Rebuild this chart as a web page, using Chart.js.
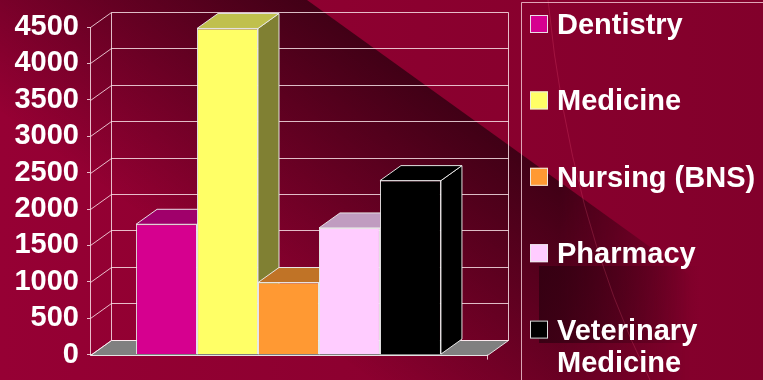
<!DOCTYPE html>
<html><head><meta charset="utf-8">
<script src="https://cdn.jsdelivr.net/npm/chart.js@4"></script>
<style>
html,body{margin:0;padding:0;background:#8f0030;overflow:hidden}
#wrap{position:relative;width:763px;height:380px}
canvas{display:block}
</style>
</head><body>
<div id="wrap"><canvas id="c" width="763" height="380"></canvas></div>
<script>
// ---- data ----
const categories = ['Dentistry', 'Medicine', 'Nursing (BNS)', 'Pharmacy', 'Veterinary Medicine'];
const values = [1790, 4480, 990, 1740, 2390];
const frontColors = ['#D6008F', '#FFFF66', '#FF9933', '#FFCCFF', '#000000'];
const topColors = ['#A0006B', '#C0C04D', '#C07326', '#C09CC0', '#000000'];
const sideColors = ['#6B0048', '#808033', '#804D1A', '#806680', '#000000'];
const yMin = 0, yMax = 4500, yStep = 500;

const FONT = "'Liberation Sans', Arial, sans-serif";
const DX = 21, DY = -15;
const EDGE = 'rgba(235,235,235,0.95)';
const GRID = 'rgba(255,235,240,0.8)';

function seg(ctx, x1, y1, x2, y2) {
  ctx.beginPath(); ctx.moveTo(x1, y1); ctx.lineTo(x2, y2); ctx.stroke();
}
function poly(ctx, pts, fill, stroke) {
  ctx.beginPath();
  pts.forEach((p, i) => i ? ctx.lineTo(p[0], p[1]) : ctx.moveTo(p[0], p[1]));
  ctx.closePath();
  ctx.fillStyle = fill; ctx.fill();
  ctx.strokeStyle = stroke; ctx.lineWidth = 1; ctx.stroke();
}

const background = {
  id: 'background',
  beforeDraw(chart) {
    const ctx = chart.ctx, W = chart.width, H = chart.height;
    ctx.save();
    const g = ctx.createLinearGradient(0, 0, W, 0);
    g.addColorStop(0, '#960034');
    g.addColorStop(1, '#82002b');
    ctx.fillStyle = g; ctx.fillRect(0, 0, W, H);
    // dark diagonal shape (offscreen to fade it to the right)
    const off = document.createElement('canvas'); off.width = W; off.height = H;
    const o = off.getContext('2d');
    const nx = -0.584, ny = 0.811;
    const dg = o.createLinearGradient(307, 0, 307 + nx * 270, ny * 270);
    dg.addColorStop(0, 'rgba(40,0,14,0.75)');
    dg.addColorStop(0.5, 'rgba(40,0,14,0.38)');
    dg.addColorStop(1, 'rgba(40,0,14,0)');
    o.beginPath(); o.moveTo(307, 0); o.lineTo(W, 0.72 * (W - 307)); o.lineTo(W, H); o.lineTo(0, H); o.lineTo(0, 0); o.closePath();
    o.fillStyle = dg; o.fill();
    o.globalCompositeOperation = 'destination-out';
    const fg = o.createLinearGradient(560, 0, 690, 0);
    fg.addColorStop(0, 'rgba(0,0,0,0)'); fg.addColorStop(1, 'rgba(0,0,0,1)');
    o.fillStyle = fg; o.fillRect(0, 0, W, H);
    ctx.drawImage(off, 0, 0);
    // dark rectangle in the legend panel
    const rg = ctx.createLinearGradient(539, 0, 700, 0);
    rg.addColorStop(0, 'rgba(40,0,14,0.7)'); rg.addColorStop(1, 'rgba(40,0,14,0)');
    ctx.fillStyle = rg; ctx.fillRect(539, 266, 161, 77);
    // faint arc
    ctx.strokeStyle = 'rgba(255,90,130,0.22)'; ctx.lineWidth = 1;
    ctx.beginPath(); ctx.moveTo(548, 0); ctx.quadraticCurveTo(570, 220, 650, 380); ctx.stroke();
    ctx.restore();
  }
};

const threeD = {
  id: 'threeD',
  beforeDatasetsDraw(chart) {
    const ctx = chart.ctx, a = chart.chartArea, y = chart.scales.y;
    ctx.save();
    ctx.lineWidth = 1;
    const L = Math.round(a.left) + 0.5, R = Math.round(a.right) + 0.5;
    const B = Math.round(a.bottom) + 0.5;
    // floor
    poly(ctx, [[L, B], [R, B], [R + DX, B + DY], [L + DX, B + DY]], '#808080', EDGE);
    // back wall grid + left wall diagonals
    ctx.strokeStyle = GRID;
    y.ticks.forEach(t => {
      const py = Math.round(y.getPixelForValue(t.value)) + 0.5;
      seg(ctx, L, py, L + DX, py + DY);
      seg(ctx, L + DX, py + DY, R + DX, py + DY);
    });
    const T = Math.round(y.getPixelForValue(yMax)) + 0.5;
    seg(ctx, L + DX, T + DY, L + DX, B + DY);
    seg(ctx, R + DX, T + DY, R + DX, B + DY);
    // bar sides and tops, left to right
    categories.forEach((c, i) => {
      const el = chart.getDatasetMeta(i).data[0];
      const l = el.x - el.width / 2, r = el.x + el.width / 2, tp = el.y, bs = el.base;
      poly(ctx, [[r, tp], [r + DX, tp + DY], [r + DX, bs + DY], [r, bs]], sideColors[i], EDGE);
      poly(ctx, [[l, tp], [r, tp], [r + DX, tp + DY], [l + DX, tp + DY]], topColors[i], EDGE);
    });
    ctx.restore();
  },
  afterDatasetsDraw(chart) {
    const ctx = chart.ctx, a = chart.chartArea;
    ctx.save(); ctx.strokeStyle = GRID; ctx.lineWidth = 1;
    seg(ctx, Math.round(a.right) + 0.5, a.bottom, Math.round(a.right) + 0.5, a.bottom + 5);
    ctx.restore();
  }
};

const legendPanel = {
  id: 'legendPanel',
  afterDraw(chart) {
    const ctx = chart.ctx;
    ctx.save();
    ctx.strokeStyle = 'rgba(255,220,230,0.75)'; ctx.lineWidth = 1;
    seg(ctx, 521.5, 2.5, 763, 2.5);
    seg(ctx, 521.5, 2.5, 521.5, 380);
    ctx.font = 'bold 29px ' + FONT;
    ctx.textBaseline = 'alphabetic';
    ctx.textAlign = 'left';
    categories.forEach((c, i) => {
      const cy = 24 + 76.4 * i;
      ctx.fillStyle = frontColors[i];
      ctx.fillRect(530, cy - 9, 18, 18);
      ctx.strokeStyle = 'rgba(235,235,235,0.95)';
      ctx.strokeRect(530.5, cy - 8.5, 17, 17);
      const words = c.split(' ');
      const lines = [];
      let cur = '';
      words.forEach(w => {
        const test = cur ? cur + ' ' + w : w;
        if (cur && ctx.measureText(test).width > 203) { lines.push(cur); cur = w; } else cur = test;
      });
      lines.push(cur);
      ctx.fillStyle = '#ffffff';
      lines.forEach((ln, k) => ctx.fillText(ln, 557, cy + 10 + 32 * k));
    });
    ctx.restore();
  }
};

new Chart(document.getElementById('c'), {
  type: 'bar',
  data: {
    labels: [''],
    datasets: categories.map((c, i) => ({
      label: c,
      data: [values[i]],
      backgroundColor: frontColors[i],
      borderColor: EDGE,
      borderWidth: 1,
      categoryPercentage: 0.768,
      barPercentage: 1
    }))
  },
  options: {
    responsive: false,
    animation: false,
    devicePixelRatio: 1,
    layout: { padding: { left: 0, top: 27, right: 276, bottom: 0 } },
    plugins: { legend: { display: false }, tooltip: { enabled: false } },
    scales: {
      x: {
        ticks: { display: false },
        grid: { display: false, drawTicks: false },
        border: { display: true, color: EDGE, width: 1 },
        afterFit(s) { s.height = 24; }
      },
      y: {
        min: yMin, max: yMax,
        ticks: {
          stepSize: yStep,
          color: '#ffffff',
          font: { family: FONT, size: 29, weight: 'bold' },
          padding: 8,
          callback: v => String(v)
        },
        grid: { drawOnChartArea: false, drawTicks: true, tickLength: 3, color: GRID },
        border: { display: true, color: GRID, width: 1 },
        afterFit(s) { s.width = 90; }
      }
    }
  },
  plugins: [background, threeD, legendPanel]
});
</script>
</body></html>
